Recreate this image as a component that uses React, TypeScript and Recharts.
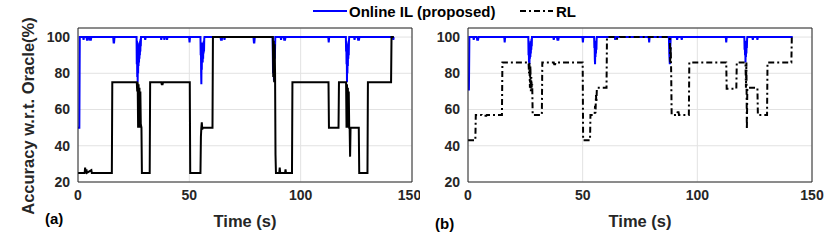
import React from "react";
import { LineChart, Line, XAxis, YAxis, CartesianGrid, ReferenceLine } from "recharts";

const timeTicks = [0, 50, 100, 150];
const accTicks = [20, 40, 60, 80, 100];
const legendLabels = ["Online IL (proposed)", "RL"];

// Panel (a): [time (s), accuracy (%)]
const onlineILA: [number, number][] = [
  [0, 50], [0.6, 50], [0.8, 100], [2.3, 100], [2.5, 98.5], [2.7, 100], [3.8, 100], [4.0, 98.5], [4.4, 98.5], [4.6, 100],
  [5.2, 100], [5.4, 98.5], [5.8, 98.5], [6.0, 100], [15.8, 100], [16.0, 97], [16.2, 97], [16.4, 100],
  [26.3, 100], [26.4, 85], [26.5, 98], [26.6, 78], [26.7, 95], [26.8, 75], [26.9, 92], [27.0, 80], [27.1, 96], [27.2, 84],
  [27.3, 94], [27.4, 86], [27.5, 97], [27.6, 88], [27.7, 96], [27.8, 90], [27.9, 98], [28.0, 92], [28.1, 99], [28.2, 95], [28.3, 100],
  [30.0, 100], [30.2, 98.5], [30.4, 100], [37.2, 100], [37.4, 98.5], [37.6, 100], [38.6, 100], [38.8, 98.5], [39.0, 100],
  [39.8, 100], [40.0, 98.5], [40.2, 100], [49.9, 100], [50.1, 97], [50.3, 100],
  [55.0, 100], [55.1, 90], [55.2, 97], [55.3, 80], [55.4, 74], [55.5, 92], [55.6, 82], [55.7, 95], [55.8, 88], [55.9, 97],
  [56.0, 86], [56.1, 96], [56.2, 88], [56.3, 97], [56.4, 91], [56.5, 98], [56.6, 92], [56.7, 99], [56.8, 100],
  [64.0, 100], [64.2, 98.5], [64.6, 98.5], [64.8, 100], [65.6, 100], [65.8, 98.5], [66.0, 100],
  [78.8, 100], [79.0, 97], [79.2, 97], [79.4, 100], [87.4, 100], [87.6, 80], [87.8, 95], [88.0, 76], [88.2, 93], [88.4, 88], [88.6, 100],
  [91.0, 100], [91.2, 98.5], [91.4, 100], [92.4, 100], [92.6, 98.5], [93.0, 98.5], [93.2, 100],
  [112.4, 100], [112.6, 97], [112.8, 100],
  [120.3, 100], [120.4, 92], [120.5, 98], [120.6, 85], [120.7, 96], [120.8, 75], [120.9, 90], [121.0, 80], [121.1, 95],
  [121.2, 84], [121.3, 96], [121.4, 88], [121.5, 97], [121.6, 90], [121.7, 98], [121.8, 100],
  [124.0, 100], [124.2, 98.5], [124.4, 100], [125.6, 100], [125.8, 98.5], [126.2, 98.5], [126.4, 100],
  [141.4, 100], [141.6, 98.5], [141.8, 100],
];
const rlA: [number, number][] = [
  [0, 25], [3.0, 25], [3.2, 28], [3.4, 25], [3.8, 27], [4.0, 25], [6.0, 26.5], [6.2, 25], [15.2, 25], [15.4, 75],
  [26.4, 75], [26.6, 70], [26.8, 75], [27.0, 50], [27.2, 74], [27.4, 52], [27.6, 72], [27.8, 50], [28.0, 70], [28.2, 52], [28.5, 50], [28.7, 25],
  [32.2, 25], [32.4, 75], [37.4, 75], [37.6, 74], [38.0, 74], [38.2, 75], [50.2, 75], [50.4, 25],
  [55.0, 25], [55.2, 45], [55.4, 50], [55.6, 53], [55.8, 49], [56.0, 50], [60.4, 50], [60.6, 100],
  [87.5, 100], [87.7, 78], [87.9, 98], [88.1, 75], [88.3, 96], [88.5, 80], [88.7, 35], [88.9, 25],
  [90.4, 25], [90.6, 28], [90.8, 25], [93.0, 25], [93.2, 27], [93.4, 25], [96.1, 25], [96.3, 75],
  [112.5, 75], [112.7, 50], [117.0, 50], [117.2, 75], [120.4, 75], [120.6, 50], [120.8, 74], [121.0, 50], [121.2, 72], [121.4, 52],
  [121.6, 70], [121.8, 50], [122.0, 50], [122.2, 34], [122.4, 50], [126.1, 50], [126.3, 25], [130.0, 25], [130.2, 75],
  [140.6, 75], [140.8, 100], [141.8, 100],
];

// Panel (b)
const onlineILB: [number, number][] = [
  [0, 71], [0.4, 71], [0.6, 100], [2.3, 100], [2.5, 98.5], [2.7, 100], [3.8, 100], [4.0, 98.5], [4.4, 98.5], [4.6, 100],
  [15.8, 100], [16.0, 97], [16.2, 100],
  [26.3, 100], [26.4, 90], [26.5, 98], [26.6, 86], [26.7, 96], [26.8, 85], [26.9, 94], [27.0, 88], [27.1, 96], [27.2, 89],
  [27.3, 97], [27.4, 91], [27.5, 98], [27.6, 93], [27.7, 99], [27.8, 95], [27.9, 100],
  [37.2, 100], [37.4, 98.5], [37.6, 100], [38.8, 100], [39.0, 98.5], [39.4, 98.5], [39.6, 100], [49.9, 100], [50.1, 97], [50.3, 100],
  [55.0, 100], [55.1, 94], [55.2, 98], [55.3, 88], [55.4, 85], [55.5, 95], [55.6, 89], [55.7, 97], [55.8, 91], [55.9, 98],
  [56.0, 93], [56.1, 99], [56.2, 100], [64.0, 100], [64.2, 98.5], [64.4, 100],
  [78.8, 100], [79.0, 97], [79.2, 100], [87.6, 100], [87.8, 90], [88.0, 85], [88.2, 94], [88.4, 100],
  [91.0, 100], [91.2, 98.5], [91.4, 100], [93.0, 100], [93.2, 98.5], [93.4, 100], [112.4, 100], [112.6, 97], [112.8, 100],
  [120.5, 100], [120.6, 93], [120.7, 98], [120.8, 90], [120.9, 97], [121.0, 86], [121.1, 95], [121.2, 89], [121.3, 97],
  [121.4, 91], [121.5, 98], [121.6, 94], [121.7, 99], [121.8, 100],
  [124.0, 100], [124.2, 98.5], [124.4, 100], [126.0, 100], [126.2, 98.5], [126.4, 100], [141.6, 100],
];
const rlB: [number, number][] = [
  [0, 43], [3.2, 43], [3.4, 57], [6.0, 57], [6.2, 56.5], [8.0, 56.5], [8.2, 57], [14.8, 57], [15.0, 86],
  [26.4, 86], [26.6, 80], [26.8, 86], [27.0, 72], [27.2, 84], [27.4, 70], [27.6, 78], [27.8, 72], [28.0, 74], [28.2, 57],
  [32.2, 57], [32.4, 86], [37.4, 86], [37.6, 85], [38.0, 85], [38.2, 86], [50.0, 86], [50.2, 43], [53.2, 43], [53.4, 57],
  [55.2, 57], [55.4, 62], [55.6, 58], [55.8, 68], [56.0, 64], [56.2, 72], [60.4, 72], [60.6, 100],
  [64.0, 100], [64.2, 99], [66.0, 99], [66.2, 100], [88.0, 100], [88.2, 86], [88.4, 95], [88.6, 80], [88.8, 57],
  [91.2, 57], [91.4, 58.5], [91.8, 58.5], [92.0, 57], [96.3, 57], [96.5, 86], [112.6, 86], [112.8, 71.5], [117.0, 71.5], [117.2, 86],
  [121.0, 86], [121.2, 72], [121.4, 86], [121.6, 49], [121.8, 72], [126.2, 72], [126.4, 57], [130.4, 57], [130.6, 86],
  [141.0, 86], [141.2, 100], [141.8, 100],
];

const toRows = (arr: [number, number][]) => arr.map(([t, v]) => ({ t, v }));

const FONT = "'Liberation Sans', Arial, Helvetica, sans-serif";
const AXIS = "#262626";
const tickStyle = { fontSize: 14, fontWeight: 700, fill: AXIS, fontFamily: FONT };

function Panel({ online, rl, dashed, left, width, yWidth, rightMargin }: any) {
  return (
    <div style={{ position: "absolute", left, top: 0 }}>
      <LineChart width={width} height={244} margin={{ top: 28, right: rightMargin, bottom: 0, left: 0 }}>
        <CartesianGrid stroke="#e2e2e2" strokeWidth={1} />
        <XAxis
          type="number"
          dataKey="t"
          domain={[0, 150]}
          ticks={timeTicks}
          tickLine={false}
          height={62}
          stroke={AXIS}
          tick={tickStyle}
          allowDataOverflow
        />
        <YAxis
          type="number"
          domain={[20, 105]}
          ticks={accTicks}
          tickLine={false}
          width={yWidth}
          stroke={AXIS}
          tick={tickStyle}
          allowDataOverflow
        />
        <ReferenceLine y={105} stroke={AXIS} strokeWidth={1} />
        <ReferenceLine x={150} stroke={AXIS} strokeWidth={1} />
        <Line
          data={toRows(online)}
          dataKey="v"
          type="linear"
          stroke="#0000ff"
          strokeWidth={2}
          dot={false}
          isAnimationActive={false}
        />
        <Line
          data={toRows(rl)}
          dataKey="v"
          type="linear"
          stroke="#000000"
          strokeWidth={2}
          strokeDasharray={dashed ? "6 3 2 3" : undefined}
          dot={false}
          isAnimationActive={false}
        />
      </LineChart>
    </div>
  );
}

export default function App() {
  return (
    <div style={{ position: "absolute", left: 0, top: 0, width: 830, height: 244, background: "#fff", fontFamily: FONT }}>
      <Panel online={onlineILA} rl={rlA} dashed={false} left={0} width={420} yWidth={78} rightMargin={8} />
      <Panel online={onlineILB} rl={rlB} dashed={true} left={410} width={420} yWidth={58} rightMargin={18} />
      <svg width={830} height={244} style={{ position: "absolute", left: 0, top: 0, pointerEvents: "none" }}>
        <line x1={313} y1={11} x2={347} y2={11} stroke="#0000ff" strokeWidth={2} />
        <text x={349} y={16.5} fontSize={15} fontWeight={700} fill="#000" fontFamily={FONT}>{legendLabels[0]}</text>
        <line x1={520} y1={11} x2={553} y2={11} stroke="#000" strokeWidth={2} strokeDasharray="6 3 2 3" />
        <text x={556} y={16.5} fontSize={15} fontWeight={700} fill="#000" fontFamily={FONT}>{legendLabels[1]}</text>
        <text
          x={0}
          y={0}
          transform="translate(33.5,116) rotate(-90)"
          textAnchor="middle"
          fontSize={16.5}
          fontWeight={700}
          fill={AXIS}
          fontFamily={FONT}
        >
          Accuracy w.r.t. Oracle(%)
        </text>
        <text x={245} y={226.5} textAnchor="middle" fontSize={16.5} fontWeight={700} fill={AXIS} fontFamily={FONT}>Time (s)</text>
        <text x={640} y={226.5} textAnchor="middle" fontSize={16.5} fontWeight={700} fill={AXIS} fontFamily={FONT}>Time (s)</text>
        <text x={45} y={224} fontSize={15} fontWeight={700} fill="#000" fontFamily={FONT}>(a)</text>
        <text x={435} y={229} fontSize={15} fontWeight={700} fill="#000" fontFamily={FONT}>(b)</text>
      </svg>
    </div>
  );
}
